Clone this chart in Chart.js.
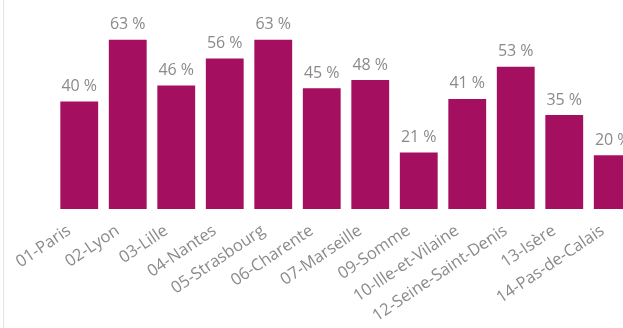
<!DOCTYPE html>
<html>
<head>
  <meta charset="UTF-8">
  <title>Taux par département</title>
  <script src="https://cdn.jsdelivr.net/npm/chart.js"></script>
  <style>
    html, body { margin: 0; padding: 0; background: #fff; overflow: hidden; }
    #frame { position: relative; width: 623px; height: 328px; overflow: hidden; border-left: 1px solid #e3e3e3; margin-left: 3px; box-sizing: border-box; }
    #chart-container { position: absolute; left: -4px; top: 0; width: 640px; height: 328px; }
  </style>
</head>
<body>
  <div id="frame">
    <div id="chart-container">
      <canvas id="myChart"></canvas>
    </div>
  </div>
  <script>
    // départements et taux (%)
    const departements = [
      "01-Paris", "02-Lyon", "03-Lille", "04-Nantes", "05-Strasbourg", "06-Charente",
      "07-Marseille", "09-Somme", "10-Ille-et-Vilaine", "12-Seine-Saint-Denis", "13-Isère", "14-Pas-de-Calais"
    ];
    const taux = [40, 63, 46, 56, 63, 45, 48, 21, 41, 53, 35, 20];

    const textColor = '#8a8a8a';
    const fontFamily = '"Open Sans", "Noto Sans", sans-serif';

    // étiquettes de valeur au-dessus des barres
    const valueLabels = {
      id: 'valueLabels',
      afterDatasetsDraw(chart) {
        const ctx = chart.ctx;
        const meta = chart.getDatasetMeta(0);
        ctx.save();
        ctx.font = '16px ' + fontFamily;
        ctx.fillStyle = textColor;
        ctx.textAlign = 'center';
        ctx.textBaseline = 'bottom';
        meta.data.forEach((bar, i) => {
          ctx.fillText(taux[i] + ' %', bar.x, bar.y - 7);
        });
        ctx.restore();
      }
    };

    new Chart(document.getElementById('myChart'), {
      type: 'bar',
      data: {
        labels: departements,
        datasets: [{
          data: taux,
          backgroundColor: '#A4105F',
          categoryPercentage: 1,
          barPercentage: 0.78
        }]
      },
      options: {
        responsive: true,
        maintainAspectRatio: false,
        animation: false,
        layout: { padding: { left: 55, right: 3, top: 21, bottom: 0 } },
        plugins: { legend: { display: false }, tooltip: { enabled: false } },
        scales: {
          x: {
            grid: { display: false, drawTicks: false },
            border: { display: false },
            ticks: {
              color: textColor,
              font: { family: fontFamily, size: 16.5 },
              minRotation: 34,
              maxRotation: 34,
              autoSkip: false,
              padding: 12,
              labelOffset: -10
            },
            afterFit(scale) {
              scale.paddingLeft = 0;
              scale.paddingRight = 0;
              scale.height = 119;
            }
          },
          y: {
            display: false,
            min: 0,
            max: 70
          }
        }
      },
      plugins: [valueLabels]
    });
  </script>
</body>
</html>
